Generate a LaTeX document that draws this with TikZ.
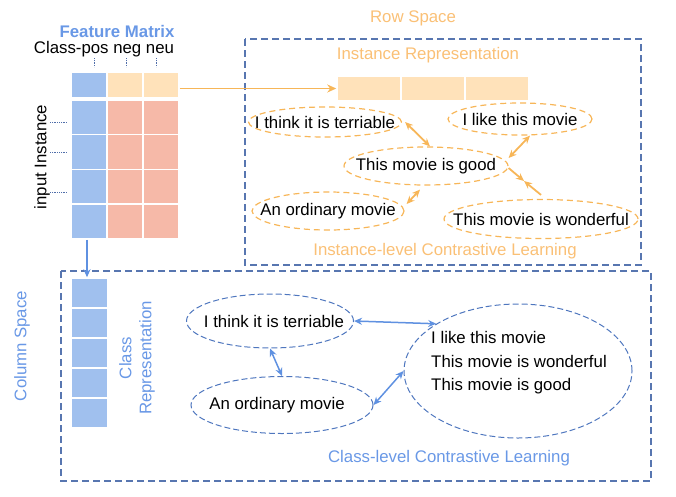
\documentclass[tikz,border=0pt]{standalone}
\usepackage{fontspec}
\setmainfont{Liberation Sans}
\usetikzlibrary{arrows.meta,shapes.geometric}
\definecolor{featblue}{RGB}{105,152,230}
\definecolor{cellblue}{RGB}{160,192,238}
\definecolor{cellcream}{RGB}{255,226,186}
\definecolor{cellsalmon}{RGB}{246,185,168}
\definecolor{rowtext}{RGB}{250,192,118}
\definecolor{rowline}{RGB}{247,182,88}
\definecolor{boxline}{RGB}{88,118,176}
\definecolor{classline}{RGB}{78,118,190}
\definecolor{classarrow}{RGB}{95,145,225}
\definecolor{tickline}{RGB}{80,110,170}
\tikzset{
    cell/.style={draw=white, line width=1.5pt, minimum width=36pt, inner sep=0pt},
    sent/.style={ellipse, inner sep=0pt, text=black},
    rowsent/.style={sent, draw=rowline, dash pattern=on 6pt off 4pt, line width=1.2pt},
    classsent/.style={sent, draw=classline, dash pattern=on 6pt off 3pt, line width=1pt},
    spacebox/.style={draw=boxline, dash pattern=on 7pt off 4pt, line width=1.2pt},
    ticks/.style={tickline, densely dotted, line width=0.8pt},
    rowarrow/.style={rowline, line width=1.8pt},
    classarrows/.style={{Stealth[length=8pt,width=7pt]}-{Stealth[length=8pt,width=7pt]}, classarrow, line width=1.5pt}
}
\begin{document}
\begin{tikzpicture}[x=1pt, y=-1pt, font=\fontsize{16.8}{20}\selectfont]
    \useasboundingbox (0,0) rectangle (676,496);
    %draw space frames
    \draw[spacebox] (245,39) rectangle (641,265);
    \draw[spacebox] (61,271) rectangle (651,481);
    %draw feature matrix
    \node[font=\fontsize{16.8}{20}\selectfont\bfseries, text=featblue, inner sep=1pt] (title) at (117,31) {Feature Matrix};
    \node[inner sep=1pt] (classes) at (104,49) {Class-pos neg neu};
    \foreach \x/\c [count=\j] in {89/cellblue,125/cellcream,161/cellcream}
        {%
            \node[cell, fill=\c, minimum height=26pt] (t\j) at (\x,85) {};
        }
    \foreach \y [count=\i] in {117.4,152.1,186.9,221.6}
        {%
            \foreach \x/\c [count=\j] in {89/cellblue,125/cellsalmon,161/cellsalmon}
                {%
                    \node[cell, fill=\c, minimum height=34.8pt] (m\i\j) at (\x,\y) {};
                }
        }
    \node[rotate=90] (input) at (42,157) {input Instance};
    %draw dotted ticks
    \foreach \x in {94,126,156}
        {%
            \draw[ticks] (\x,58) -- (\x,67);
        }
    \foreach \y in {122,152,192}
        {%
            \draw[ticks] (50,\y) -- (67,\y);
        }
    %draw row space
    \node[text=rowtext] (rowspace) at (413,18) {Row Space};
    \node[text=rowtext] (instrep) at (428,55) {Instance Representation};
    \foreach \x [count=\j] in {369,433,497}
        {%
            \node[cell, fill=cellcream, minimum width=64pt, minimum height=25pt] (b\j) at (\x,88.5) {};
        }
    \draw[rowarrow, -{Stealth[length=9pt,width=8pt]}] (t3.east |- b1.west) -- (b1.west);
    \node[rowsent, minimum width=153pt, minimum height=30pt] (rterr) at (325,122) {\makebox[0pt]{I think it is terriable}};
    \node[rowsent, minimum width=144pt, minimum height=32pt] (rlike) at (520,119) {\makebox[0pt]{I like this movie}};
    \node[rowsent, minimum width=164pt, minimum height=38pt] (rgood) at (426,166) {\makebox[0pt]{This movie is good}};
    \node[rowsent, minimum width=152pt, minimum height=38pt] (rord) at (328,211) {\makebox[0pt]{An ordinary movie}};
    \node[rowsent, minimum width=194pt, minimum height=39pt] (rwond) at (541,219) {\makebox[0pt]{This movie is wonderful}};
    \coordinate (meet) at (524,181);
    \draw[rowarrow, {Stealth[length=8pt,width=7pt]}-{Stealth[length=8pt,width=7pt]}] ([xshift=3pt]rterr.east) -- ([xshift=4pt]rgood.north);
    \draw[rowarrow, {Stealth[length=8pt,width=7pt]}-{Stealth[length=8pt,width=7pt]}] ([yshift=8pt]rgood.east) -- ([xshift=10pt]rlike.south);
    \draw[rowarrow, {Stealth[length=8pt,width=7pt]}-{Stealth[length=8pt,width=7pt]}] ([xshift=-6pt,yshift=-4pt]rgood.south) -- ([xshift=2pt,yshift=7pt]rord.east);
    \draw[rowarrow, -{Stealth[length=8pt,width=7pt]}] ([yshift=-2pt]rgood.east) -- (meet);
    \draw[rowarrow, -{Stealth[length=8pt,width=7pt]}] ([yshift=4pt]rwond.north) -- (meet);
    \node[text=rowtext] (instlevel) at (445,251) {Instance-level Contrastive Learning};
    %draw column space
    \foreach \y [count=\i] in {293,323,353,383,413}
        {%
            \node[cell, fill=cellblue, minimum width=37pt, minimum height=30pt] (c\i) at (89.5,\y) {};
        }
    \draw[classarrow, line width=1.5pt, -{Stealth[length=8pt,width=7pt]}] ([xshift=-2pt]m41.south) -- ([xshift=-2.5pt]c1.north);
    \node[rotate=90, text=featblue] (colspace) at (22,346) {Column Space};
    \node[rotate=90, text=featblue, align=center] (classrep) at (137,358) {Class\\Representation};
    \node[classsent, minimum width=167pt, minimum height=54pt] (cterr) at (270,321) {\makebox[0pt]{\hspace{8pt}I think it is terriable}};
    \node[classsent, minimum width=182pt, minimum height=57pt] (cord) at (282,405) {\makebox[0pt]{\hspace{-10pt}An ordinary movie}};
    \node[classsent, minimum width=228pt, minimum height=134pt] (cpos) at (518,371) {};
    \node[align=left, inner sep=0pt, font=\fontsize{16.8}{23.5}\selectfont] (postext) at (519,363) {I like this movie\\This movie is wonderful\\This movie is good};
    \draw[classarrows] (cterr.east) -- (cpos.150);
    \draw[classarrows] (cterr.south) -- (cord.north);
    \draw[classarrows] (cord.east) -- (cpos.west);
    \node[text=featblue] (classlevel) at (449,458) {Class-level Contrastive Learning};
\end{tikzpicture}
\end{document}
